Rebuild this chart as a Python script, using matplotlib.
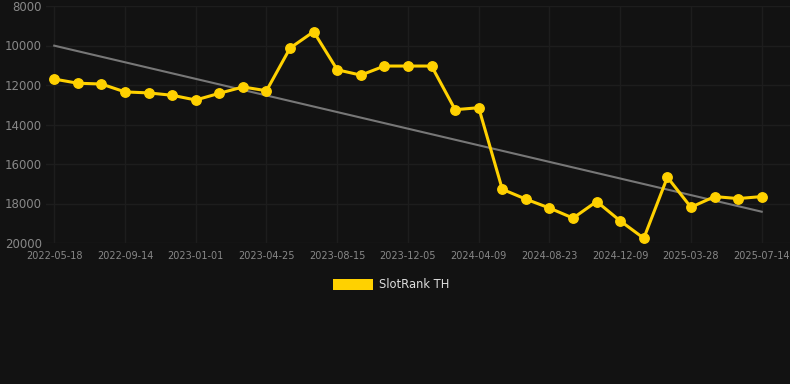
import matplotlib
matplotlib.use('Agg')
from matplotlib import pyplot as plt
from matplotlib.patches import Patch
import numpy as np

tick_labels = ['2022-05-18', '2022-09-14', '2023-01-01', '2023-04-25', '2023-08-15', '2023-12-05',
               '2024-04-09', '2024-08-23', '2024-12-09', '2025-03-28', '2025-07-14']
# one tick label every 3 points
ranks = [11700, 11910, 11950, 12350, 12400, 12520, 12760, 12420, 12100, 12290,
         10130, 9300, 11230, 11500, 11040, 11040, 11040, 13250, 13150, 17280,
         17780, 18230, 18740, 17900, 18880, 19760, 16670, 18190, 17650, 17750, 17650]
series_name = 'SlotRank TH'

bg = '#121212'
gold = '#FFD100'

x = np.arange(len(ranks))
slope, icpt = np.polyfit(x, ranks, 1)
trend = slope * x + icpt

fig = plt.figure(figsize=(7.9, 3.84), dpi=100, facecolor=bg)
ax = fig.add_axes([46/790, (384-243)/384, (790-46)/790, (243-6)/384])
ax.set_facecolor(bg)

ax.plot(x, trend, color='#777777', linewidth=1.5, zorder=2)
ax.plot(x, ranks, color=gold, linewidth=2.2, marker='o', markersize=6.8, zorder=3)

ax.set_ylim(20000, 8000)
ax.set_yticks([8000, 10000, 12000, 14000, 16000, 18000, 20000])
ax.set_xlim(-0.35, 31.2)
ax.set_xticks(x[::3])
ax.set_xticklabels(tick_labels)

ax.grid(True, color='#1d1d1d', linewidth=1)
ax.set_axisbelow(True)
for s in ax.spines.values():
    s.set_visible(False)
ax.tick_params(axis='both', length=0, colors='#888888')
ax.tick_params(axis='y', labelsize=8.5, pad=3)
ax.tick_params(axis='x', labelsize=7, pad=6)

fig.legend(handles=[Patch(facecolor=gold, label=series_name)],
           loc='center', bbox_to_anchor=(391/790, 1 - 285/384),
           frameon=False, fontsize=8.3, labelcolor='#dddddd',
           handlelength=3.5, handleheight=1.0, handletextpad=0.5)

fig.savefig('out.png', dpi=100, facecolor=bg)
